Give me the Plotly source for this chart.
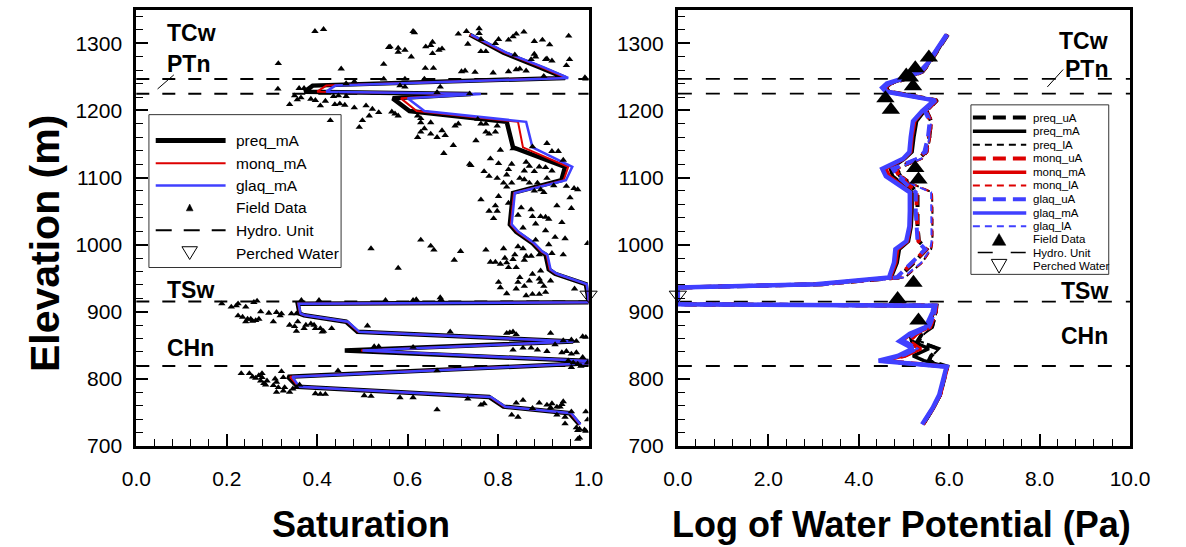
import plotly.graph_objects as go

W, H = 1186, 547

# ---------------- Left panel: Saturation ----------------
sat_E = [1313, 1286, 1264.5, 1248.5, 1237, 1228, 1224.5, 1218, 1199, 1183, 1145, 1116, 1096, 1077,
         1030, 1019, 1002, 989.5, 985, 963, 956.5, 941, 926, 914, 911.7, 897, 894.6, 885, 870,
         855.7, 842, 826.5, 823, 803, 788, 773, 758.4, 748.6, 731.7]
preq_sat = [0.737, 0.812, 0.891, 0.948, 0.39, 0.372, 0.74, 0.567, 0.604, 0.819, 0.833, 0.948, 0.94,
            0.833, 0.826, 0.84, 0.876, 0.894, 0.905, 0.912, 0.926, 0.994, 0.998, 1.0, 0.357, 0.361,
            0.371, 0.464, 0.489, 0.966, 0.461, 0.998, 1.0, 0.335, 0.357, 0.78, 0.812, 0.958, 0.98]
monq_sat = [0.737, 0.815, 0.895, 0.95, 0.42, 0.40, 0.75, 0.585, 0.62, 0.844, 0.855, 0.955, 0.945,
            0.835, 0.828, 0.842, 0.878, 0.896, 0.907, 0.914, 0.928, 0.995, 0.999, 1.0, 0.358, 0.362,
            0.372, 0.466, 0.491, 0.968, 0.497, 0.998, 1.0, 0.34, 0.359, 0.782, 0.814, 0.96, 0.981]
glaq_sat = [0.74, 0.818, 0.9, 0.955, 0.44, 0.42, 0.762, 0.6, 0.637, 0.862, 0.876, 0.964, 0.95,
            0.837, 0.83, 0.845, 0.88, 0.898, 0.909, 0.916, 0.93, 0.996, 0.999, 1.0, 0.359, 0.363,
            0.373, 0.468, 0.493, 0.97, 0.5, 0.999, 1.0, 0.345, 0.36, 0.784, 0.816, 0.962, 0.982]

field_sat = (
    [0.395, 0.414, 0.314, 0.453, 0.313, 0.36, 0.371, 0.35, 0.364, 0.356, 0.339, 0.386, 0.396, 0.407,
     0.418, 0.436, 0.447, 0.439, 0.45, 0.464, 0.461, 0.429, 0.482, 0.493, 0.5, 0.464, 0.482]
    + [0.612, 0.615, 0.558, 0.561, 0.579, 0.594, 0.579, 0.64, 0.655, 0.651, 0.669, 0.676, 0.655, 0.608,
       0.547, 0.639, 0.657, 0.712, 0.73, 0.758, 0.758, 0.733, 0.762, 0.773, 0.762, 0.794, 0.801, 0.823,
       0.833, 0.84, 0.857, 0.88, 0.898, 0.914, 0.956, 0.837, 0.873, 0.88, 0.883, 0.905, 0.908, 0.919,
       0.958, 0.951, 0.719, 0.727, 0.749, 0.789, 0.823, 0.84, 0.848, 0.862, 0.901, 0.992, 0.547, 0.594,
       0.637, 0.583, 0.594, 0.672, 0.665, 0.737, 0.994]
    + [0.508, 0.522, 0.536, 0.515, 0.565, 0.572, 0.579, 0.622, 0.629, 0.629, 0.651, 0.637, 0.629, 0.622,
       0.651, 0.665, 0.676, 0.683, 0.701, 0.712, 0.705, 0.755, 0.762, 0.773, 0.798, 0.751, 0.78, 0.773,
       0.794, 0.805, 0.833, 0.876, 0.908, 0.919, 0.933, 0.68, 0.74]
    + [0.737, 0.783, 0.801, 0.83, 0.823, 0.862, 0.869, 0.858, 0.88, 0.891, 0.905, 0.919, 0.944, 0.769,
       0.78, 0.798, 0.819, 0.83, 0.812, 0.819, 0.848, 0.858, 0.869, 0.887, 0.908, 0.894, 0.88, 0.923,
       0.951, 0.968, 0.976, 0.959, 0.901, 0.762, 0.801, 0.823, 0.794, 0.798, 0.79, 0.78, 0.851, 0.873,
       0.876, 0.844, 0.894, 0.905, 0.912, 0.883, 0.93, 0.962, 0.941, 0.905, 0.926, 0.948, 0.855, 0.883,
       0.519, 0.629, 0.651, 0.658, 0.717, 0.703, 0.579]
    + [0.773, 0.812, 0.783, 0.794, 0.815, 0.819, 0.823, 0.805, 0.837, 0.84, 0.833, 0.858, 0.862, 0.873,
       0.855, 0.844, 0.891, 0.919, 0.944, 0.912, 0.894, 0.876, 0.848, 0.844, 0.869, 0.891, 0.894, 0.916,
       0.801, 0.805, 0.819, 0.84, 0.858, 0.876, 0.862, 0.891, 0.905, 0.901, 0.969, 0.998, 0.551, 0.612,
       0.619, 0.674]
    + [0.189, 0.21, 0.221, 0.225, 0.242, 0.26, 0.267, 0.275, 0.293, 0.31, 0.321, 0.318, 0.343, 0.354,
       0.225, 0.235, 0.246, 0.242, 0.253, 0.257, 0.264, 0.271, 0.303, 0.339, 0.35, 0.354, 0.357, 0.371,
       0.375, 0.386, 0.393, 0.396, 0.407, 0.411, 0.414, 0.432, 0.365, 0.404, 0.672]
    + [0.232, 0.25, 0.257, 0.264, 0.271, 0.278, 0.275, 0.282, 0.286, 0.278, 0.289, 0.307, 0.31, 0.321,
       0.325, 0.303, 0.314, 0.31, 0.325, 0.328, 0.339, 0.346, 0.354, 0.361, 0.396, 0.407, 0.418, 0.446]
    + [0.511, 0.694, 0.819, 0.826, 0.833, 0.84, 0.916, 0.944, 0.962, 0.973, 0.987, 0.994, 0.526, 0.536,
       0.612, 0.833, 0.855, 0.873, 0.887, 0.908, 0.926, 0.941, 0.951, 0.962, 0.973, 0.987, 0.955, 0.966,
       0.976, 0.962, 0.983, 0.998, 0.665, 0.504, 0.519, 0.583, 0.612, 0.733, 0.762, 0.769, 0.665, 0.84,
       0.855, 0.83, 0.844, 0.876, 0.891, 0.908, 0.919, 0.916, 0.93, 0.937, 0.944, 0.941, 0.93, 0.948,
       0.948, 0.962, 0.994, 0.973, 0.98, 0.976, 0.991, 0.994, 0.976, 0.98, 0.998]
)
field_E = (
    [1318, 1321, 1270, 1262, 1232, 1233, 1233, 1222, 1219, 1216, 1209, 1217, 1215, 1207,
     1214, 1221, 1222, 1209, 1210, 1221, 1208, 1185, 1204, 1175, 1185, 1240, 1243]
    + [1318, 1316, 1294, 1295, 1293, 1290, 1287, 1295, 1302, 1297, 1290, 1292, 1285, 1280,
       1269, 1263, 1263, 1314, 1318, 1322, 1315, 1299, 1306, 1288, 1288, 1300, 1306, 1305,
       1310, 1314, 1317, 1303, 1305, 1298, 1311, 1283, 1276, 1284, 1280, 1276, 1277, 1274,
       1276, 1267, 1258, 1259, 1257, 1256, 1258, 1261, 1262, 1259, 1251, 1249, 1247, 1247,
       1247, 1237, 1235, 1235, 1227, 1225, 1247]
    + [1207, 1202, 1197, 1192, 1198, 1195, 1192, 1192, 1188, 1182, 1182, 1173, 1168, 1160,
       1165, 1160, 1170, 1163, 1148, 1180, 1177, 1187, 1180, 1180, 1177, 1155, 1165, 1168,
       1168, 1141, 1143, 1146, 1151, 1139, 1139, 1136, 1118]
    + [1120, 1128, 1121, 1120, 1112, 1123, 1117, 1110, 1109, 1116, 1115, 1110, 1126, 1109,
       1102, 1099, 1104, 1092, 1092, 1086, 1099, 1097, 1092, 1092, 1099, 1082, 1080, 1088,
       1087, 1084, 1082, 1070, 1078, 1067, 1072, 1062, 1058, 1050, 1039, 1050, 1055, 1052,
       1042, 1044, 1042, 1041, 1038, 1031, 1058, 1054, 1033, 1021, 1011, 1009, 1025, 1007,
       994, 1007, 998, 992, 990, 977, 965]
    + [992, 994, 974, 974, 980, 973, 966, 971, 985, 966, 978, 977, 983, 983,
       994, 997, 985, 987, 985, 1000, 961, 956, 951, 944, 946, 949, 944, 946,
       944, 936, 927, 934, 938, 926, 924, 926, 929, 938, 934, 1002, 917, 917,
       918, 918]
    + [912, 907, 909, 912, 907, 914, 916, 900, 898, 899, 897, 894, 897, 897,
       894, 892, 889, 885, 889, 886, 887, 889, 885, 880, 878, 871, 885, 875,
       880, 882, 880, 875, 875, 870, 871, 875, 917, 917, 921]
    + [808, 808, 803, 801, 805, 802, 797, 793, 791, 808, 797, 800, 795, 811,
       802, 790, 787, 780, 782, 787, 780, 785, 787, 791, 778, 777, 777, 812]
    + [879, 870, 868, 869, 870, 866, 868, 857, 858, 856, 863, 862, 848, 848,
       847, 843, 846, 846, 843, 841, 851, 839, 841, 837, 839, 832, 827, 824,
       822, 817, 819, 824, 812, 775, 774, 772, 772, 770, 761, 763, 754, 764,
       768, 746, 743, 756, 764, 761, 763, 757, 758, 758, 766, 762, 746, 743,
       733, 751, 751, 727, 725, 723, 724, 722, 710, 712, 739]
)

# ---------------- Right panel: Log water potential ----------------
lwp_E = [1313, 1290, 1270, 1258, 1248, 1240, 1234, 1228, 1215, 1199, 1184, 1160, 1138, 1128, 1113,
         1102, 1090, 1078, 1050, 1027, 1005, 993, 973, 951, 941, 936, 911, 909, 899, 877, 867, 856,
         845, 834, 827, 818, 776, 756, 732]
preq_uA = [5.97, 5.76, 5.56, 5.41, 5.08, 4.7, 4.6, 4.68, 5.73, 5.5, 5.6, 5.56, 5.48, 5.33, 4.82, 4.92,
           5.12, 5.3, 5.3, 5.3, 5.33, 5.5, 5.22, 4.88, 3.2, 0.0, 0.0, 5.72, 5.7, 5.62, 5.4, 5.3, 5.75,
           5.6, 5.55, 5.96, 5.8, 5.64, 5.42]
preq_mA = [5.95, 5.74, 5.54, 5.38, 5.05, 4.68, 4.58, 4.65, 5.7, 5.45, 5.28, 5.22, 5.18, 5.02, 4.7, 4.75,
           4.98, 5.18, 5.18, 5.16, 5.1, 4.9, 4.85, 4.72, 3.12, 0.0, 0.0, 5.7, 5.66, 5.52, 5.13, 5.17,
           5.55, 5.2, 5.44, 5.94, 5.8, 5.65, 5.43]
preq_lA = [5.97, 5.77, 5.57, 5.43, 5.1, 4.72, 4.62, 4.7, 5.75, 5.52, 5.62, 5.58, 5.52, 5.4, 4.86, 4.96,
           5.2, 5.62, 5.63, 5.63, 5.63, 5.6, 5.4, 5.02, 3.3, 0.0, 0.0, 5.74, 5.72, 5.64, 5.45, 5.35,
           5.78, 5.62, 5.58, 5.97, 5.82, 5.66, 5.44]
monq_uA = [5.96, 5.75, 5.55, 5.4, 5.07, 4.69, 4.58, 4.66, 5.72, 5.48, 5.59, 5.55, 5.47, 5.32, 4.8, 4.9,
           5.1, 5.28, 5.28, 5.29, 5.32, 5.49, 5.2, 4.86, 3.18, 0.0, 0.0, 5.71, 5.69, 5.58, 5.28, 5.1,
           5.35, 5.02, 4.55, 5.96, 5.8, 5.64, 5.42]
monq_mA = [5.94, 5.72, 5.52, 5.36, 5.02, 4.65, 4.55, 4.62, 5.68, 5.42, 5.24, 5.18, 5.15, 5.0, 4.6, 4.68,
           4.92, 5.15, 5.15, 5.14, 5.08, 4.86, 4.82, 4.7, 3.1, 0.0, 0.0, 5.68, 5.65, 5.5, 5.16, 4.95,
           5.38, 5.0, 4.5, 5.95, 5.8, 5.64, 5.42]
monq_lA = [5.97, 5.76, 5.56, 5.42, 5.1, 4.72, 4.6, 4.68, 5.74, 5.52, 5.62, 5.58, 5.52, 5.4, 4.85, 4.95,
           5.2, 5.62, 5.63, 5.63, 5.63, 5.6, 5.4, 5.0, 3.3, 0.0, 0.0, 5.74, 5.72, 5.6, 5.3, 5.15,
           5.38, 5.05, 4.6, 5.97, 5.82, 5.65, 5.43]
glaq_uA = [5.96, 5.74, 5.54, 5.39, 5.05, 4.67, 4.55, 4.63, 5.7, 5.46, 5.57, 5.53, 5.45, 5.3, 4.75, 4.85,
           5.05, 5.26, 5.26, 5.27, 5.3, 5.47, 5.18, 4.84, 3.15, 0.0, 0.0, 5.7, 5.67, 5.55, 5.22, 5.0,
           5.28, 4.95, 4.45, 5.95, 5.79, 5.63, 5.41]
glaq_mA = [5.94, 5.72, 5.52, 5.35, 5.0, 4.62, 4.52, 4.6, 5.67, 5.4, 5.2, 5.15, 5.12, 4.98, 4.52, 4.6,
           4.86, 5.13, 5.13, 5.12, 5.05, 4.81, 4.78, 4.67, 3.05, 0.0, 0.0, 5.67, 5.63, 5.48, 5.13, 4.9,
           5.2, 4.86, 4.44, 5.94, 5.78, 5.63, 5.4]
glaq_lA = [5.96, 5.75, 5.55, 5.41, 5.08, 4.7, 4.58, 4.66, 5.72, 5.5, 5.6, 5.56, 5.5, 5.38, 4.82, 4.92,
           5.18, 5.6, 5.61, 5.61, 5.61, 5.58, 5.38, 4.98, 3.25, 0.0, 0.0, 5.72, 5.7, 5.58, 5.25, 5.05,
           5.3, 4.98, 4.5, 5.96, 5.8, 5.64, 5.42]
field_lwp = [5.55, 5.25, 5.13, 5.2, 5.05, 4.59, 4.71, 5.25, 5.32, 5.21, 4.86, 5.32]
field_lwp_E = [1279, 1263, 1249, 1236, 1252, 1218, 1201, 1114, 1097, 943, 919, 887]

hydro_E = [1247, 1225, 915, 819]
perched_E = [925]
perched_sat = [1.0]
perched_lwp = [0.0]
unit_names = ["TCw", "PTn", "TSw", "CHn"]
unit_E_left = [1316, 1269, 933, 846]
unit_E_right = [1303, 1262, 931, 863]

FONT = "Liberation Sans, Arial, sans-serif"
BLACK, RED, BLUE = "#000000", "#dd0000", "#4040ff"

fig = go.Figure()

# left curves
for vals, col, wid in [(preq_sat, BLACK, 4.5), (monq_sat, RED, 2), (glaq_sat, BLUE, 2.5)]:
    fig.add_trace(go.Scatter(x=vals, y=sat_E, mode="lines", line=dict(color=col, width=wid),
                             xaxis="x", yaxis="y", showlegend=False))
fig.add_trace(go.Scatter(x=field_sat, y=field_E, mode="markers", xaxis="x", yaxis="y",
                         marker=dict(symbol="triangle-up", size=6.5, color="black"), showlegend=False))
fig.add_trace(go.Scatter(x=perched_sat, y=perched_E, mode="markers", xaxis="x", yaxis="y", cliponaxis=False,
                         marker=dict(symbol="triangle-down-open", size=15, color="black",
                                     line=dict(width=1, color="black")), showlegend=False))

# right curves
right_series = [
    (preq_uA, BLACK, 4, "12px,7px"), (preq_mA, BLACK, 3.5, "solid"), (preq_lA, BLACK, 2, "7px,5px"),
    (monq_uA, RED, 4, "12px,7px"), (monq_mA, RED, 3.5, "solid"), (monq_lA, RED, 2, "7px,5px"),
    (glaq_uA, BLUE, 4, "12px,7px"), (glaq_mA, BLUE, 4.5, "solid"), (glaq_lA, BLUE, 2, "7px,5px"),
]
for vals, col, wid, dash in right_series:
    fig.add_trace(go.Scatter(x=vals, y=lwp_E, mode="lines", line=dict(color=col, width=wid, dash=dash),
                             xaxis="x2", yaxis="y2", showlegend=False))
fig.add_trace(go.Scatter(x=field_lwp, y=field_lwp_E, mode="markers", xaxis="x2", yaxis="y2",
                         marker=dict(symbol="triangle-up", size=16, color="black"), showlegend=False))
fig.add_trace(go.Scatter(x=perched_lwp, y=perched_E, mode="markers", xaxis="x2", yaxis="y2", cliponaxis=False,
                         marker=dict(symbol="triangle-down-open", size=15, color="black",
                                     line=dict(width=1, color="black")), showlegend=False))

shapes = []
annotations = []

# hydro unit lines
for e in hydro_E:
    shapes.append(dict(type="line", xref="x domain", yref="y", x0=0, x1=1, y0=e, y1=e, layer="below",
                       line=dict(color="black", width=2, dash="13px,13px")))
    shapes.append(dict(type="line", xref="x2 domain", yref="y2", x0=0, x1=1, y0=e, y1=e, layer="below",
                       line=dict(color="black", width=1.8, dash="14px,14px")))

# unit labels
for name, el, er in zip(unit_names, unit_E_left, unit_E_right):
    annotations.append(dict(xref="x", yref="y", x=0.064, y=el, text="<b>%s</b>" % name, showarrow=False,
                            xanchor="left", yanchor="middle", font=dict(family=FONT, size=23, color="black")))
    annotations.append(dict(xref="x2", yref="y2", x=9.55, y=er, text="<b>%s</b>" % name, showarrow=False,
                            xanchor="right", yanchor="middle", font=dict(family=FONT, size=23, color="black")))
# slanted pointer lines near PTn
shapes.append(dict(type="line", xref="x", yref="y", x0=0.047, y0=1232, x1=0.083, y1=1253,
                   line=dict(color="black", width=1)))
shapes.append(dict(type="line", xref="x2", yref="y2", x0=8.17, y0=1235, x1=8.52, y1=1261,
                   line=dict(color="black", width=1)))


def px(x):
    return x / W


def py(y):
    return 1 - y / H


def tri(cx, cy, w, h, down=False):
    if down:
        pts = [(cx - w / 2, cy - h / 2), (cx + w / 2, cy - h / 2), (cx, cy + h / 2)]
    else:
        pts = [(cx - w / 2, cy + h / 2), (cx + w / 2, cy + h / 2), (cx, cy - h / 2)]
    return "M" + " L".join("%f,%f" % (px(a), py(b)) for a, b in pts) + " Z"


# ---- left legend (manual) ----
shapes.append(dict(type="rect", xref="paper", yref="paper", x0=px(138), x1=px(336), y0=py(273), y1=py(117),
                   line=dict(color="#333333", width=1), fillcolor="rgba(0,0,0,0)"))
left_leg = [("preq_mA", 143.3), ("monq_mA", 166.7), ("glaq_mA", 189.3), ("Field Data", 211.7),
            ("Hydro. Unit", 235), ("Perched Water", 258.3)]
left_line_styles = [(BLACK, 5, "solid"), (RED, 2, "solid"), (BLUE, 2.5, "solid")]
for i, (txt, yy) in enumerate(left_leg):
    annotations.append(dict(xref="paper", yref="paper", x=px(226), y=py(yy), text=txt, showarrow=False,
                            xanchor="left", yanchor="middle", font=dict(family=FONT, size=15.5, color="black")))
    if i < 3:
        c, w, d = left_line_styles[i]
        shapes.append(dict(type="line", xref="paper", yref="paper", x0=px(145), x1=px(217), y0=py(yy), y1=py(yy),
                           line=dict(color=c, width=w, dash=d)))
    elif txt == "Field Data":
        shapes.append(dict(type="path", xref="paper", yref="paper", path=tri(180, yy, 7, 7),
                           fillcolor="black", line=dict(color="black", width=0.5)))
    elif txt == "Hydro. Unit":
        shapes.append(dict(type="line", xref="paper", yref="paper", x0=px(145), x1=px(217), y0=py(yy), y1=py(yy),
                           line=dict(color="black", width=2, dash="16px,12px")))
    else:
        shapes.append(dict(type="path", xref="paper", yref="paper", path=tri(180, yy, 16, 13, down=True),
                           fillcolor="rgba(0,0,0,0)", line=dict(color="black", width=1)))

# ---- right legend (manual) ----
shapes.append(dict(type="rect", xref="paper", yref="paper", x0=px(985), x1=px(1127), y0=py(280), y1=py(107),
                   line=dict(color="#333333", width=1), fillcolor="white"))
right_leg = ["preq_uA", "preq_mA", "preq_lA", "monq_uA", "monq_mA", "monq_lA",
             "glaq_uA", "glaq_mA", "glaq_lA", "Field Data", "Hydro. Unit", "Perched Water"]
right_leg_y = [120, 134, 147.7, 161.7, 175.7, 189.3, 203.3, 217.3, 231, 244.3, 257.7, 271.7]
leg_styles = {"uA": (4, "13px,7px"), "mA": (3.5, "solid"), "lA": (2, "7px,5px")}
leg_cols = {"preq": BLACK, "monq": RED, "glaq": BLUE}
for txt, yy in zip(right_leg, right_leg_y):
    annotations.append(dict(xref="paper", yref="paper", x=px(1047), y=py(yy), text=txt, showarrow=False,
                            xanchor="left", yanchor="middle", font=dict(family=FONT, size=11.5, color="black")))
    if "_" in txt:
        pre, suf = txt.split("_")
        w, d = leg_styles[suf]
        shapes.append(dict(type="line", xref="paper", yref="paper", x0=px(987), x1=px(1042), y0=py(yy), y1=py(yy),
                           line=dict(color=leg_cols[pre], width=w, dash=d)))
    elif txt == "Field Data":
        shapes.append(dict(type="path", xref="paper", yref="paper", path=tri(1014, yy, 14, 12),
                           fillcolor="black", line=dict(color="black", width=0.5)))
    elif txt == "Hydro. Unit":
        shapes.append(dict(type="line", xref="paper", yref="paper", x0=px(992), x1=px(1042), y0=py(yy), y1=py(yy),
                           line=dict(color="black", width=1.5, dash="15px,18px")))
    else:
        shapes.append(dict(type="path", xref="paper", yref="paper", path=tri(1014, yy, 16, 14, down=True),
                           fillcolor="rgba(0,0,0,0)", line=dict(color="black", width=1)))

# axis titles
annotations.append(dict(xref="paper", yref="paper", x=px(31), y=py(249), text="<b>Elevation (m)</b>",
                        textangle=-90, showarrow=False, xanchor="center", yanchor="middle",
                        font=dict(family=FONT, size=41, color="black")))
annotations.append(dict(xref="paper", yref="paper", x=px(357), y=py(535), text="<b>Saturation</b>",
                        showarrow=False, xanchor="center", yanchor="middle",
                        font=dict(family=FONT, size=36, color="black")))
annotations.append(dict(xref="paper", yref="paper", x=px(913), y=py(535), text="<b>Log of Water Potential (Pa)</b>",
                        showarrow=False, xanchor="center", yanchor="middle",
                        font=dict(family=FONT, size=36, color="black")))

ydom = [py(455), py(10)]
common = dict(showline=True, linewidth=3, linecolor="black", mirror=True, ticks="inside", ticklen=12,
              tickwidth=1.5, tickcolor="black", showgrid=False, zeroline=False,
              tickfont=dict(family=FONT, size=21, color="black"))

fig.update_layout(
    width=W, height=H, autosize=False,
    margin=dict(l=0, r=0, t=0, b=0),
    paper_bgcolor="white", plot_bgcolor="white",
    showlegend=False,
    xaxis=dict(domain=[px(125), px(591)], range=[0, 1], dtick=0.2, tickformat=".1f", anchor="y",
               ticklabelstandoff=12,
               minor=dict(ticks="inside", ticklen=7, tickwidth=1.2, tickcolor="black", dtick=0.04), **common),
    yaxis=dict(domain=ydom, range=[700, 1350], dtick=100, anchor="x", ticklabelstandoff=7,
               minor=dict(ticks="inside", ticklen=7, tickwidth=1.2, tickcolor="black", dtick=20), **common),
    xaxis2=dict(domain=[px(683), px(1149)], range=[0, 10], dtick=2, tickformat=".1f", anchor="y2",
                ticklabelstandoff=12,
                minor=dict(ticks="inside", ticklen=7, tickwidth=1.2, tickcolor="black", dtick=0.4), **common),
    yaxis2=dict(domain=ydom, range=[700, 1350], dtick=100, anchor="x2", ticklabelstandoff=7,
                minor=dict(ticks="inside", ticklen=7, tickwidth=1.2, tickcolor="black", dtick=20), **common),
    shapes=shapes,
    annotations=annotations,
)

fig.write_html("out.html")
